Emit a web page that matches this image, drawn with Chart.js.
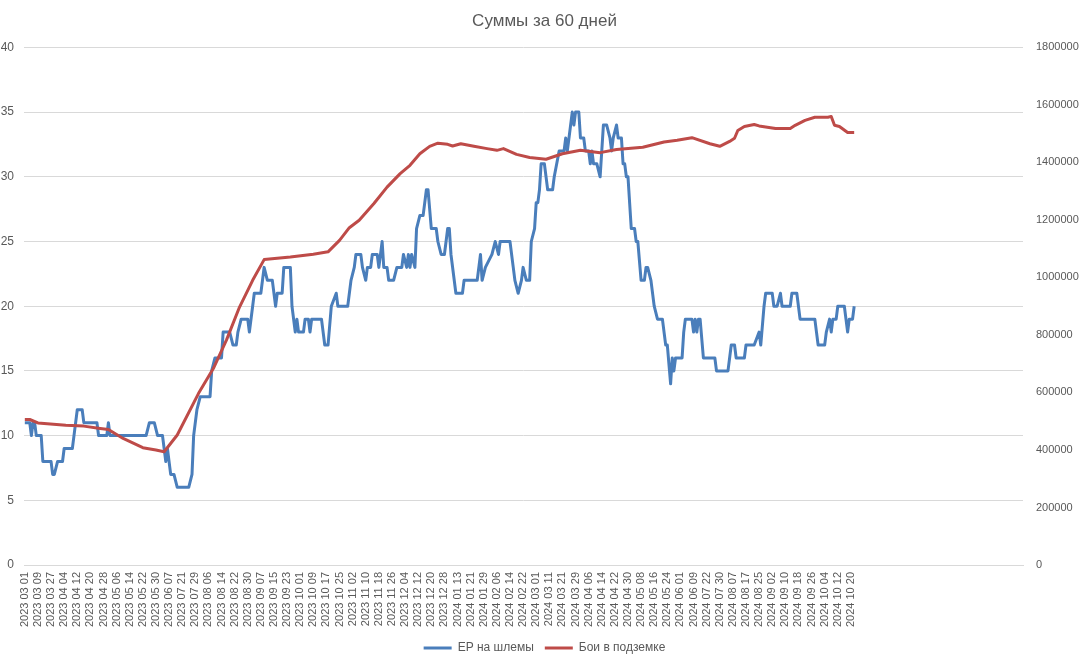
<!DOCTYPE html>
<html>
<head>
<meta charset="utf-8">
<title>Суммы за 60 дней</title>
<script src="https://cdn.jsdelivr.net/npm/chart.js@4.4.1/dist/chart.umd.min.js"></script>
<style>
  html, body { margin: 0; padding: 0; background: #fff; }
  canvas { display: block; }
</style>
</head>
<body>
<canvas id="chart" width="1089" height="659"></canvas>
<script>
// labels shown on the date axis, one every 8 rows of the sheet
const tickLabels = [
  "2023 03 01", "2023 03 09", "2023 03 27", "2023 04 04", "2023 04 12", "2023 04 20", "2023 04 28", "2023 05 06",
  "2023 05 14", "2023 05 22", "2023 05 30", "2023 06 07", "2023 07 21", "2023 07 29", "2023 08 06", "2023 08 14",
  "2023 08 22", "2023 08 30", "2023 09 07", "2023 09 15", "2023 09 23", "2023 10 01", "2023 10 09", "2023 10 17",
  "2023 10 25", "2023 11 02", "2023 11 10", "2023 11 18", "2023 11 26", "2023 12 04", "2023 12 12", "2023 12 20",
  "2023 12 28", "2024 01 13", "2024 01 21", "2024 01 29", "2024 02 06", "2024 02 14", "2024 02 22", "2024 03 01",
  "2024 03 11", "2024 03 21", "2024 03 29", "2024 04 06", "2024 04 14", "2024 04 22", "2024 04 30", "2024 05 08",
  "2024 05 16", "2024 05 24", "2024 06 01", "2024 06 09", "2024 07 22", "2024 07 30", "2024 08 07", "2024 08 17",
  "2024 08 25", "2024 09 02", "2024 09 10", "2024 09 18", "2024 09 26", "2024 10 04", "2024 10 12", "2024 10 20"
];
const labelStep = 8;
const rowCount = 610; // sheet range incl. empty rows at the end

// ЕР на шлемы: [row, value] where the value changes
const epRows = [0,3,4,5,6,7,10,11,16,17,18,20,23,24,29,30,32,35,36,44,45,50,51,52,74,76,79,81,84,85,86,87,89,91,93,100,102,103,105,107,113,114,116,120,121,125,127,129,130,132,136,137,139,140,144,146,148,151,153,154,157,158,162,163,165,166,167,170,171,173,174,175,181,183,185,187,190,191,197,199,201,202,205,206,208,209,211,212,215,216,218,219,221,222,225,227,230,231,233,234,235,236,238,239,241,243,245,246,248,251,252,254,256,258,259,260,263,267,268,270,276,278,279,281,285,287,289,290,296,298,299,301,303,304,306,308,309,311,312,313,314,315,317,319,322,323,326,329,330,331,332,333,334,335,336,338,339,341,342,344,345,346,347,349,351,353,355,357,358,359,361,362,364,365,366,367,368,370,372,373,374,376,378,379,380,382,384,386,389,391,392,394,395,396,397,401,402,403,407,408,409,410,411,412,414,421,422,429,430,431,433,434,439,440,445,448,449,451,452,456,457,459,461,462,467,468,471,472,473,482,483,484,488,489,491,492,493,495,496,500,501,502,503,505,506];
const epValues = [11,11,10,11,11,10,10,8,8,7,7,8,8,9,9,10,12,12,11,11,10,10,11,10,10,11,11,10,10,9,8,9,7,7,6,6,7,10,12,13,13,15,16,16,18,18,17,17,18,19,19,18,20,21,21,23,22,22,20,21,21,23,23,20,18,19,18,18,19,19,18,19,19,17,17,20,21,20,20,22,23,24,24,23,22,23,23,24,24,23,25,23,23,22,22,23,23,24,23,24,23,24,23,26,27,27,29,29,26,26,25,24,24,26,26,24,21,21,22,22,22,24,22,23,24,25,24,25,25,23,22,21,22,23,22,22,25,26,28,28,29,31,31,29,29,30,32,32,33,32,33,34,35,34,35,35,33,33,32,32,31,32,31,31,30,34,34,33,32,33,34,33,33,31,31,30,30,26,26,25,25,22,22,23,23,22,20,19,19,17,17,14,16,15,16,16,18,19,19,18,19,18,19,19,16,16,15,15,16,17,17,16,16,17,17,18,17,20,21,21,20,20,21,20,20,21,21,20,19,19,18,17,17,18,19,18,19,19,20,20,19,18,19,19,20];

// Бои в подземке: [row, value] at the bends of the line
const fightRows = [0,3,8,25,36,46,51,60,72,80,85,93,106,115,123,131,139,146,162,176,185,192,198,204,213,221,229,235,241,247,252,258,261,266,274,282,288,292,300,308,318,328,339,351,361,377,390,398,407,418,424,430,433,435,439,445,448,458,467,470,476,482,490,492,494,497,502,506];
const fightValues = [506000,506000,494000,486000,483000,475000,471000,440000,408000,400000,394000,452000,597000,683000,782000,897000,990000,1062000,1071000,1081000,1089000,1129000,1173000,1199000,1257000,1314000,1361000,1390000,1430000,1456000,1467000,1463000,1457000,1465000,1456000,1448000,1442000,1448000,1428000,1417000,1411000,1430000,1442000,1434000,1445000,1453000,1471000,1477000,1486000,1465000,1456000,1473000,1484000,1511000,1525000,1532000,1527000,1518000,1518000,1529000,1546000,1557000,1557000,1560000,1529000,1525000,1504000,1504000];

const leftTicks = { min: 0, max: 40, step: 5 };
const rightTicks = { min: 0, max: 1800000, step: 200000 };

const toPoints = (rows, vals) => rows.map((r, i) => ({ x: r, y: vals[i] }));

const textColor = "#595959";
const gridColor = "#d9d9d9";
const font = "'Liberation Sans', Arial, sans-serif";

const ctx = document.getElementById("chart").getContext("2d");
new Chart(ctx, {
  type: "line",
  data: {
    datasets: [
      {
        label: "ЕР на шлемы",
        data: toPoints(epRows, epValues),
        borderColor: "#4a7ebb",
        backgroundColor: "#4a7ebb",
        borderWidth: 3,
        borderJoinStyle: "round",
        pointRadius: 0,
        yAxisID: "y",
        order: 2
      },
      {
        label: "Бои в подземке",
        data: toPoints(fightRows, fightValues),
        borderColor: "#be4b48",
        backgroundColor: "#be4b48",
        borderWidth: 3,
        borderJoinStyle: "round",
        pointRadius: 0,
        yAxisID: "y1",
        order: 1
      }
    ]
  },
  options: {
    responsive: false,
    animation: false,
    // legend sits a bit lower than Chart.js would put it
    layout: { padding: { top: 0, left: 0, right: 0, bottom: -5 } },
    plugins: {
      title: {
        display: true,
        text: "Суммы за 60 дней",
        color: textColor,
        font: { family: font, size: 17, weight: "normal" },
        padding: { top: 11, bottom: 16 }
      },
      legend: {
        position: "bottom",
        labels: {
          color: textColor,
          font: { family: font, size: 12 },
          usePointStyle: true,
          pointStyle: "line",
          pointStyleWidth: 28,
          boxHeight: 12,
          padding: 11,
          sort: (a, b) => a.datasetIndex - b.datasetIndex
        }
      },
      tooltip: { enabled: false }
    },
    scales: {
      x: {
        type: "linear",
        min: -0.5,
        max: rowCount - 1,
        grid: { display: false, drawTicks: false },
        border: { display: true, color: gridColor },
        afterBuildTicks: scale => {
          scale.ticks = tickLabels.map((_, i) => ({ value: i * labelStep }));
        },
        afterFit: scale => { scale.height = 66; },
        ticks: {
          autoSkip: false,
          minRotation: 90,
          maxRotation: 90,
          padding: 7,
          color: textColor,
          font: { family: font, size: 11 },
          callback: v => tickLabels[Math.round(v / labelStep)] ?? ""
        }
      },
      y: {
        position: "left",
        min: leftTicks.min,
        max: leftTicks.max,
        afterFit: scale => { scale.width = 24; },
        grid: { color: gridColor, drawTicks: false },
        border: { display: false },
        ticks: {
          stepSize: leftTicks.step,
          padding: 10,
          color: textColor,
          font: { family: font, size: 12 }
        }
      },
      y1: {
        position: "right",
        min: rightTicks.min,
        max: rightTicks.max,
        afterFit: scale => { scale.width = 66; },
        grid: { display: false, drawTicks: false },
        border: { display: false },
        ticks: {
          stepSize: rightTicks.step,
          padding: 13,
          color: textColor,
          font: { family: font, size: 11 },
          callback: v => String(v)
        }
      }
    }
  }
});
</script>
</body>
</html>
